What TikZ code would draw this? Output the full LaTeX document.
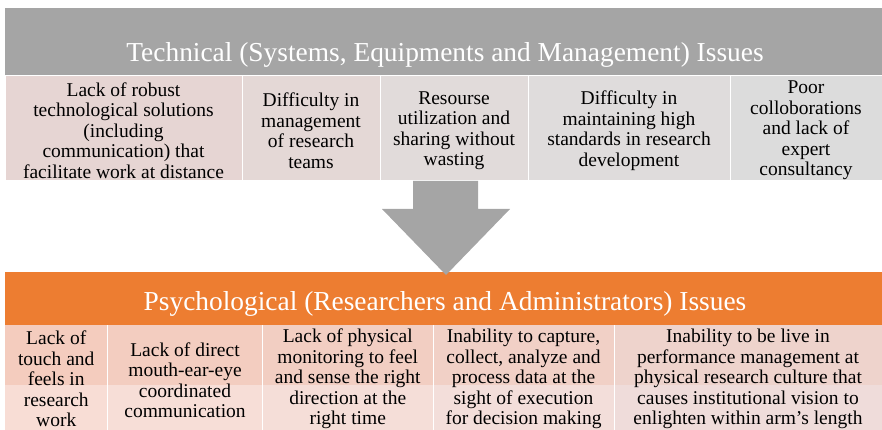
\documentclass[tikz,border=0pt]{standalone}
\usepackage{fontspec}
\setmainfont{Liberation Serif}
\definecolor{hdgray}{HTML}{A5A5A5}
\definecolor{hdorange}{HTML}{ED7D31}
\definecolor{tA}{HTML}{E6D5D3}
\definecolor{tB}{HTML}{E4D8D6}
\definecolor{tC}{HTML}{E1DBDA}
\definecolor{tD}{HTML}{DFDCDC}
\definecolor{tE}{HTML}{DCDCDC}
\definecolor{pA}{HTML}{F4CCBE}
\definecolor{pB}{HTML}{F3CDC0}
\definecolor{pC}{HTML}{F2CEC2}
\definecolor{pD}{HTML}{F1D0C6}
\definecolor{pE}{HTML}{EED3CC}
\definecolor{qA}{HTML}{F8DDD5}
\definecolor{qB}{HTML}{F7DED7}
\definecolor{qC}{HTML}{F5DED8}
\definecolor{qD}{HTML}{F3DEDA}
\definecolor{qE}{HTML}{EFDCDA}
\begin{document}
\begin{tikzpicture}[x=1pt,y=-1pt,hd/.style ={minimum width=877pt,inner sep=0pt},ttl/.style ={text=white,font=\fontsize{27.4}{30}\selectfont},cell/.style ={draw=white,line width=1pt,inner sep=0pt,minimum height=105pt},txt/.style ={align=center,inner sep=0pt,font=\fontsize{19.5}{20.5}\selectfont}]
\useasboundingbox (0,0) rectangle (882,430);

%technical header
\node[hd,fill=hdgray,minimum height=68pt] at (443.5,42) (tech){};
\node[ttl] at (445,55) (techttl){Technical (Systems, Equipments and Management) Issues};

%technical cells
\node[cell,fill=tA,minimum width=237pt] at (123.5,128.5) (t1){};
\node[cell,fill=tB,minimum width=138pt] at (311,128.5) (t2){};
\node[cell,fill=tC,minimum width=148pt] at (454,128.5) (t3){};
\node[cell,fill=tD,minimum width=202pt] at (629,128.5) (t4){};
\node[cell,fill=tE,minimum width=152pt] at (806,128.5) (t5){};
\node[txt,yshift=-2pt] at (t1) {Lack of robust\\technological solutions\\(including\\communication) that\\facilitate work at distance};
\node[txt,yshift=-2pt] at (t2) {Difficulty in\\management\\of research\\teams};
\node[txt,yshift=-2pt] at (t3) {Resourse\\utilization and\\sharing without\\wasting};
\node[txt,yshift=-2pt] at (t4) {Difficulty in\\maintaining high\\standards in research\\development};
\node[txt,yshift=-2pt] at (t5) {Poor\\colloborations\\and lack of\\expert\\consultancy};

%psychological header
\node[hd,fill=hdorange,minimum height=53pt] at (443.5,298.5) (psy){};
\node[ttl] at (445,304) (psyttl){Psychological (Researchers and Administrators) Issues};

%down arrow
\fill[hdgray] (413,181) -- (478,181) -- (478,209) -- (510,209) -- (446,275) -- (382,209) -- (413,209) -- cycle;

%psychological cells, two tone
\fill[pA] (5,325) rectangle (107.5,385);
\fill[pB] (107.5,325) rectangle (262.5,385);
\fill[pC] (262.5,325) rectangle (433,385);
\fill[pD] (433,325) rectangle (614,385);
\fill[pE] (614,325) rectangle (882,385);
\fill[qA] (5,385) rectangle (107.5,430);
\fill[qB] (107.5,385) rectangle (262.5,430);
\fill[qC] (262.5,385) rectangle (433,430);
\fill[qD] (433,385) rectangle (614,430);
\fill[qE] (614,385) rectangle (882,430);
\draw[white,line width=1pt] (107.5,325) -- (107.5,430) (262.5,325) -- (262.5,430) (433,325) -- (433,430) (614,325) -- (614,430);
\node[txt] at (56.25,379) (p1){Lack of\\touch and\\feels in\\research\\work};
\node[txt] at (185,380) (p2){Lack of direct\\mouth-ear-eye\\coordinated\\communication};
\node[txt] at (347.75,379) (p3){Lack of physical\\monitoring to feel\\and sense the right\\direction at the\\right time};
\node[txt] at (523.5,379) (p4){Inability to capture,\\collect, analyze and\\process data at the\\sight of execution\\for decision making};
\node[txt] at (748,379) (p5){Inability to be live in\\performance management at\\physical research culture that\\causes institutional vision to\\enlighten within arm's length};
\end{tikzpicture}
\end{document}
